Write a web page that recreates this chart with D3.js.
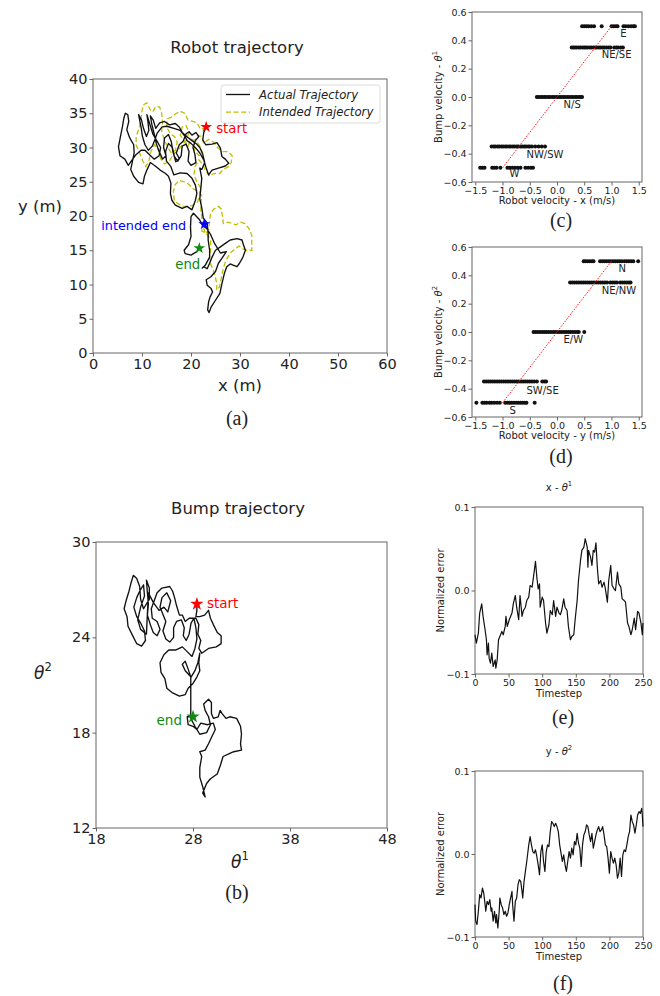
<!DOCTYPE html>
<html>
<head>
<meta charset="utf-8">
<script src="https://cdn.jsdelivr.net/npm/d3@7"></script>
<style>
  body { margin: 0; background: #fff; }
  svg { display: block; font-family: "DejaVu Sans", sans-serif; }
  .frame { fill: none; stroke: #666; stroke-width: 1; }
  .axis path { display: none; }
  .axis line { stroke: #666; }
  .axis text { fill: #222; }
  .caption { font-family: "Liberation Serif", "DejaVu Serif", serif; font-size: 20px; fill: #222; }
</style>
</head>
<body>
<svg id="fig" width="660" height="996"></svg>
<script>
// ---- data ----

// (a) robot trajectory, metres [x, y]
const robotActual = [
  [23.1,33.0],[22.6,32.2],[22.4,31.1],[23.0,30.4],[24.3,30.5],[25.3,30.7],[26.0,29.9],[26.3,28.7],[27.0,28.3],[27.7,27.7],
  [27.0,27.3],[25.6,27.0],[24.3,26.7],[23.6,26.0],[23.1,27.0],[22.6,28.2],[21.8,29.2],[21.0,29.9],[20.0,30.6],[19.2,31.0],
  [18.8,31.6],[17.8,32.5],[16.5,32.8],[15.1,33.1],[14.1,33.0],[13.1,32.1],[12.6,31.1],[12.1,30.2],[11.3,29.6],[10.6,30.4],
  [10.1,31.6],[9.8,33.0],[9.3,34.8],[9.9,34.0],[10.3,32.8],[10.9,31.6],[11.4,32.5],[11.2,33.8],[11.0,34.8],[11.6,33.4],
  [12.2,32.0],[13.0,31.0],[13.8,30.0],[13.5,28.8],[12.5,28.3],[11.6,28.9],[10.6,29.6],[9.8,29.6],[8.7,28.9],[7.8,28.0],
  [7.2,27.4],[6.5,28.3],[5.5,28.8],[5.2,30.1],[5.6,31.6],[6.0,33.0],[6.3,34.3],[6.6,35.0],[7.1,34.8],[7.3,33.8],
  [6.9,32.6],[7.5,31.4],[8.3,30.4],[8.4,29.2],[8.0,27.8],[7.7,26.8],[8.3,25.8],[9.3,24.9],[10.2,24.7],[10.5,25.8],
  [11.0,26.7],[11.7,27.8],[12.7,27.3],[13.7,26.7],[14.8,26.2],[15.4,25.8],[15.9,24.8],[15.8,23.3],[16.1,22.3],[16.8,21.6],
  [18.2,21.1],[19.2,21.4],[20.2,20.9],[20.9,22.3],[21.2,23.3],[20.9,24.5],[20.2,25.5],[19.2,26.2],[17.8,26.3],[16.5,26.0],
  [15.9,27.2],[15.0,28.0],[14.8,29.4],[15.4,30.6],[16.2,30.0],[16.6,28.7],[17.3,28.0],[18.0,28.8],[18.2,30.2],[19.0,30.5],
  [19.6,29.4],[19.4,28.0],[20.0,27.4],[21.0,27.8],[20.8,29.0],[20.4,30.0],[20.9,31.0],[21.6,31.6],[21.0,32.2],[20.2,31.8],
  [19.6,32.3],[19.0,32.0],[18.4,30.9],[17.6,30.4],[17.0,29.2],[17.6,28.4],[16.9,27.9],[16.3,29.4],[16.0,30.8],[15.4,31.9],
  [14.6,31.4],[14.4,30.0],[14.9,28.8],[14.2,28.3],[13.4,29.6],[12.9,30.6],[12.5,32.0],[12.0,33.4],[11.7,34.6],[12.3,34.0],
  [12.8,32.8],[13.6,33.6],[14.6,33.8],[15.6,33.3],[16.8,33.5],[17.6,33.0],[18.2,32.2],[19.3,31.5],[20.2,31.0],[21.0,30.6],
  [21.8,30.0],[22.4,29.0],[22.8,27.8],[22.2,26.8],[21.8,27.0],[22.2,25.5],[22.0,24.0],[21.8,22.5],[22.2,21.2],[22.5,19.7],
  [23.3,19.0],[23.5,17.5],[23.5,16.5],[23.8,15.0],[23.8,14.0],[22.9,12.8],[22.3,12.4],[22.6,12.6],[23.3,12.3],[23.8,13.1],
  [24.3,14.0],[25.0,15.0],[26.0,15.5],[27.0,16.0],[28.0,16.5],[29.4,16.7],[30.4,16.5],[30.7,15.8],[31.1,15.0],[30.6,14.0],
  [29.9,13.1],[29.4,12.6],[28.7,12.8],[28.0,13.0],[27.3,12.6],[26.8,11.6],[26.3,10.1],[25.9,8.7],[25.0,7.7],[24.1,6.7],
  [23.7,5.9],[23.4,6.3],[23.6,7.5],[23.9,8.2],[24.4,8.9],[24.1,9.4],[23.3,9.9],[23.1,10.7],[24.0,11.1],[25.0,11.9],
  [25.6,13.1],[26.3,13.8],[27.2,14.8],[26.0,14.6],[24.8,16.0],[24.0,17.3],[23.2,18.2],[22.4,18.6],[21.7,19.5],[20.5,20.4],
  [20.0,19.9],[19.9,18.4],[20.0,17.0],[19.5,15.8],[18.6,15.0],[18.8,14.5],[20.0,14.3],[21.2,14.8],[21.7,15.3]
];
const robotIntended = [
  [23.1,33.0],[22.0,32.6],[21.2,33.6],[20.4,33.8],[19.4,34.0],[18.7,35.0],[17.8,35.3],[16.8,34.9],[15.9,34.4],[15.2,34.2],
  [15.0,33.0],[15.8,32.0],[16.6,31.6],[17.2,30.8],[16.8,29.6],[16.0,29.2],[15.3,30.0],[14.6,31.0],[14.0,32.4],[14.2,33.8],
  [14.0,35.0],[13.6,35.9],[12.8,36.0],[12.2,35.2],[11.6,35.6],[11.0,36.5],[10.4,36.3],[10.0,35.4],[9.8,34.0],[9.4,32.8],
  [8.8,31.6],[8.8,30.4],[9.4,29.4],[10.2,28.0],[10.8,27.2],[11.4,28.0],[11.8,29.4],[12.6,30.4],[13.4,29.6],[13.8,28.4],
  [14.6,27.6],[15.6,28.0],[16.4,29.0],[17.4,29.6],[18.2,30.4],[19.0,31.0],[19.6,32.2],[19.0,33.2],[18.2,33.0],[17.8,31.8],
  [18.6,31.0],[19.4,30.2],[20.0,31.2],[21.0,31.0],[21.8,30.2],[22.4,29.2],[21.6,28.8],[20.8,29.6],[20.6,30.8],[21.4,31.8],
  [22.2,31.6],[22.6,30.6],[23.6,31.2],[24.6,30.8],[25.4,30.0],[26.4,29.4],[27.6,29.4],[28.4,28.8],[28.2,27.8],[27.6,27.2],
  [26.6,26.8],[25.8,26.2],[24.6,26.2],[23.8,25.8],[23.0,26.6],[22.4,27.6],[21.6,28.2],[20.8,27.2],[20.6,26.0],[21.2,25.0],
  [21.9,24.2],[21.8,23.0],[21.3,22.0],[20.4,21.6],[19.4,21.4],[18.4,21.4],[17.4,21.8],[16.6,22.2],[16.4,23.6],[16.8,24.6],
  [17.6,25.2],[18.6,25.0],[19.6,24.6],[20.4,24.0],[21.4,23.6],[22.2,23.0],[22.0,21.8],[22.0,20.8],[22.2,19.8],[22.4,18.6],
  [22.2,17.8],[23.2,17.4],[24.0,16.4],[24.0,15.2],[23.8,14.0],[24.0,13.0],[24.6,12.0],[25.0,11.0],[25.3,10.0],[25.2,9.2],
  [25.8,9.6],[26.2,11.0],[26.6,12.4],[27.2,13.6],[28.0,14.6],[29.0,15.2],[29.8,15.6],[30.6,15.2],[31.4,15.0],[32.4,15.0],
  [32.4,16.2],[32.4,17.2],[31.8,18.2],[31.0,18.9],[30.1,19.1],[29.2,18.7],[28.4,18.9],[27.6,19.1],[26.6,18.9],[26.4,20.0],
  [26.2,21.0],[25.6,21.4],[24.6,21.0],[24.0,20.4],[23.8,19.2],[23.6,18.0],[23.0,17.4],[22.6,18.2],[22.7,18.8]
];
const robotStart = [23.1, 33.0];
const robotIntendedEnd = [22.7, 18.8];
const robotEnd = [21.7, 15.3];
const legendLabels = ["Actual Trajectory", "Intended Trajectory"];

// (b) bump trajectory [theta1, theta2]
const bumpPath = [
  [28.4,26.1],[28.4,25.7],[28.3,25.3],[28.7,25.3],[29.2,25.4],[29.6,25.7],[29.8,25.2],[30.1,24.8],[30.5,24.3],[30.9,24.1],
  [30.9,23.6],[30.4,23.4],[29.6,23.3],[28.9,23.0],[28.6,23.3],[28.8,23.8],[28.5,24.2],[28.6,24.8],[28.3,25.2],[27.6,25.2],
  [27.2,25.0],[26.9,25.4],[26.6,25.4],[26.3,26.0],[26.1,26.5],[25.9,26.9],[25.6,27.2],[24.8,27.1],[24.3,26.8],[24.0,26.3],
  [23.7,25.8],[23.8,25.2],[24.3,25.0],[24.6,24.5],[24.3,24.1],[23.9,24.3],[23.6,24.8],[23.3,25.4],[23.4,26.1],[23.3,26.8],
  [23.2,27.6],[23.5,27.1],[23.5,26.4],[22.9,25.8],[22.6,26.4],[22.5,27.2],[22.2,27.7],[21.85,27.9],[21.6,27.4],[21.4,26.9],
  [21.1,26.3],[20.9,25.8],[21.2,25.3],[21.3,24.7],[21.7,24.2],[22.2,23.6],[22.7,23.45],[23.1,23.8],[23.0,24.4],[22.6,24.9],
  [22.2,25.3],[21.9,25.9],[22.2,26.5],[22.5,26.9],[22.9,27.3],[23.0,26.6],[22.6,25.9],[22.3,25.1],[22.6,24.5],[23.2,24.2],
  [23.4,26.8],[23.9,26.2],[24.5,25.7],[25.0,25.9],[25.4,25.6],[25.7,26.3],[25.3,26.8],[24.8,26.5],[24.6,25.9],[25.2,25.0],
  [24.9,24.4],[25.2,23.9],[25.6,23.7],[26.0,24.0],[26.0,24.6],[26.3,25.0],[26.8,25.1],[27.1,24.6],[27.0,24.1],[27.3,23.8],
  [27.6,24.2],[27.8,24.9],[28.1,25.2],[28.3,24.6],[28.4,23.9],[28.2,23.3],[27.9,22.8],[27.4,23.1],[26.9,23.4],[26.2,23.2],
  [25.5,23.2],[25.0,22.9],[24.6,22.4],[24.7,21.8],[25.1,21.4],[25.3,20.8],[25.9,20.5],[26.6,20.3],[27.2,20.4],[27.5,20.8],
  [28.0,21.1],[28.4,21.5],[28.7,21.9],[28.6,22.4],[28.7,23.0],[28.5,22.4],[28.2,21.9],[27.8,21.5],[27.2,21.9],[26.9,22.3],
  [27.2,22.5],[27.5,22.0],[27.77,21.5],[27.77,20.8],[27.77,19.9],[27.77,18.9],[28.2,18.4],[28.7,17.9],[29.4,18.0],[29.8,18.5],
  [29.6,19.0],[29.25,19.4],[29.1,19.8],[29.6,20.1],[29.9,19.9],[29.9,19.2],[30.1,18.9],[30.6,19.0],[30.8,19.4],[31.0,19.2],
  [31.4,18.9],[31.8,19.0],[32.5,18.9],[32.9,18.4],[33.0,17.9],[32.9,17.3],[33.0,16.9],[32.2,16.8],[31.8,16.7],[31.1,16.5],
  [30.8,15.9],[30.5,15.4],[29.8,15.1],[29.4,14.8],[29.0,14.2],[29.25,13.95],[29.0,14.6],[28.7,15.2],[28.7,15.8],[28.9,16.5],
  [28.7,16.8],[29.25,16.9],[29.6,17.3],[29.9,17.7],[30.3,18.2],[30.1,18.6],[29.5,18.5],[28.8,18.6],[28.4,18.2],[28.0,18.4],
  [27.5,18.5],[27.4,19.0],[27.77,19.0],[28.0,19.0]
];
const bumpStart = [28.4, 26.1];
const bumpEnd = [28.0, 19.0];

// (c)/(d) bump velocity levels and the robot velocities seen at each level
const bumpLevels = [0.5, 0.35, 0.0, -0.35, -0.5];
const velX = [
  [0.46,0.50,0.54,0.58,0.63,0.68,0.82,1.00,1.04,1.08,1.11,1.22,1.26,1.31,1.36,1.40,1.43],
  [0.27,0.30,0.33,0.36,0.40,0.43,0.47,0.50,0.53,0.56,0.60,0.63,0.67,0.70,0.73,0.77,0.80,0.84,0.87,0.91,0.95,0.98,1.05,1.09,1.12,1.17,1.21],
  [-0.37,-0.34,-0.30,-0.27,-0.23,-0.20,-0.16,-0.13,-0.09,-0.06,-0.02,0.01,0.05,0.08,0.12,0.15,0.19,0.22,0.26,0.29,0.33,0.36,0.40,0.43,0.46],
  [-1.20,-1.16,-1.13,-1.09,-1.06,-1.02,-0.99,-0.95,-0.92,-0.88,-0.85,-0.81,-0.78,-0.74,-0.71,-0.67,-0.64,-0.60,-0.57,-0.53,-0.50,-0.46,-0.40,-0.34,-0.28,-0.22],
  [-1.41,-1.37,-1.33,-1.19,-1.15,-1.11,-1.04,-0.91,-0.87,-0.82,-0.77,-0.72,-0.67,-0.58,-0.53,-0.48,-0.44]
];
const velY = [
  [0.49,0.52,0.56,0.60,0.64,0.67,0.79,0.83,0.87,0.91,0.95,0.99,1.03,1.07,1.11,1.15,1.19,1.24,1.28,1.32,1.36,1.40,1.49],
  [0.24,0.28,0.32,0.36,0.40,0.44,0.48,0.52,0.56,0.60,0.64,0.68,0.72,0.76,0.80,0.84,0.88,0.92,0.98,1.02,1.06,1.10,1.16,1.20,1.24,1.28,1.32,1.35],
  [-0.43,-0.39,-0.35,-0.31,-0.27,-0.23,-0.19,-0.15,-0.11,-0.07,-0.03,0.01,0.05,0.09,0.13,0.17,0.21,0.25,0.29,0.33,0.37,0.40,0.50],
  [-1.34,-1.30,-1.26,-1.22,-1.18,-1.14,-1.10,-1.06,-1.02,-0.98,-0.94,-0.90,-0.86,-0.82,-0.78,-0.74,-0.70,-0.66,-0.62,-0.58,-0.54,-0.50,-0.46,-0.42,-0.37,-0.27,-0.23,-0.20],
  [-1.48,-1.37,-1.33,-1.29,-1.24,-1.20,-1.15,-1.10,-1.05,-0.95,-0.91,-0.87,-0.83,-0.79,-0.75,-0.71,-0.67,-0.63,-0.59,-0.56,-0.41]
];
const refLineX = [-1.0, 1.0];
const refLineY = [-0.5, 0.5];
const dirLabelsX = [
  { name: "E", vx: 1.16, vy: 0.447 }, { name: "NE/SE", vx: 0.82, vy: 0.30 }, { name: "N/S", vx: 0.12, vy: -0.054 },
  { name: "NW/SW", vx: -0.56, vy: -0.405 }, { name: "W", vx: -0.87, vy: -0.54 }
];
const dirLabelsY = [
  { name: "N", vx: 1.13, vy: 0.445 }, { name: "NE/NW", vx: 0.82, vy: 0.294 }, { name: "E/W", vx: 0.12, vy: -0.054 },
  { name: "SW/SE", vx: -0.56, vy: -0.414 }, { name: "S", vx: -0.87, vy: -0.553 }
];

// (e)/(f) normalized error per timestep
const errXSteps = [0,2,5,7,10,12,15,17,18,20,21,23,25,27,30,31,33,35,37,40,42,45,46,48,51,55,57,60,62,65,67,70,72,75,77,80,82,85,87,90,92,94,96,97,100,102,105,107,110,112,115,117,120,122,125,127,129,132,134,137,139,142,144,147,149,152,154,157,159,162,164,167,168,169,172,174,176,178,180,182,184,187,189,192,194,197,199,202,204,207,209,212,214,217,219,222,224,227,229,232,234,237,239,242,244,247,249,250];
const errXValues = [-0.053,-0.063,-0.051,-0.027,-0.016,-0.031,-0.047,-0.059,-0.077,-0.063,-0.081,-0.087,-0.075,-0.091,-0.083,-0.093,-0.083,-0.059,-0.055,-0.049,-0.053,-0.043,-0.031,-0.043,-0.035,-0.027,-0.016,-0.006,-0.020,-0.035,-0.006,-0.031,-0.024,-0.020,-0.012,-0.008,0.006,0.004,0.016,0.035,0.016,0.002,0.008,-0.020,-0.008,-0.012,-0.039,-0.051,-0.041,-0.024,-0.029,-0.012,-0.031,-0.020,-0.027,-0.029,-0.024,-0.010,-0.020,-0.024,-0.043,-0.059,-0.055,-0.053,-0.035,-0.012,0.012,0.036,0.048,0.052,0.062,0.052,0.028,0.048,0.040,0.030,0.048,0.046,0.057,0.028,0.008,0.012,0.004,0.010,0.002,-0.014,0.012,0.030,0.006,0.002,0.000,0.022,0.008,0.004,-0.010,-0.012,-0.014,-0.039,-0.043,-0.053,-0.047,-0.033,-0.047,-0.025,-0.027,-0.039,-0.053,-0.039];
const errYSteps = [0,1,3,5,7,9,11,13,15,16,18,20,22,24,25,27,29,31,32,34,36,37,39,41,43,45,47,49,51,53,55,56,58,60,62,64,66,68,70,71,73,75,77,80,82,84,86,88,90,92,94,96,98,100,102,104,106,108,110,112,114,116,118,120,122,124,126,128,130,132,134,136,138,140,142,144,146,148,150,152,154,156,158,160,162,164,166,168,170,172,174,176,178,180,182,184,186,188,190,192,194,196,198,200,202,204,206,208,210,212,214,216,218,220,222,224,226,228,230,232,234,236,238,240,242,244,246,248,249,250];
const errYValues = [-0.061,-0.081,-0.085,-0.069,-0.049,-0.053,-0.041,-0.047,-0.061,-0.069,-0.057,-0.061,-0.055,-0.069,-0.065,-0.081,-0.069,-0.083,-0.073,-0.089,-0.069,-0.053,-0.061,-0.065,-0.073,-0.069,-0.075,-0.071,-0.061,-0.053,-0.045,-0.061,-0.081,-0.057,-0.053,-0.037,-0.031,-0.033,-0.045,-0.053,-0.033,-0.021,-0.009,0.011,0.021,0.011,0.003,0.001,0.005,-0.003,-0.013,-0.025,0.003,0.011,-0.009,-0.021,0.003,0.011,0.009,0.027,0.039,0.037,0.033,0.037,0.033,0.027,0.011,0.001,-0.009,-0.001,-0.013,-0.021,-0.009,0.003,-0.005,0.007,-0.001,0.015,0.011,0.025,0.013,0.007,-0.015,0.011,0.023,0.027,0.035,0.033,0.023,0.015,0.025,0.007,0.015,0.023,0.029,0.033,0.027,0.029,0.033,0.023,0.011,0.009,-0.005,-0.023,0.003,-0.005,-0.011,-0.005,-0.013,-0.029,-0.023,-0.005,-0.027,-0.001,0.005,0.003,0.011,0.021,0.027,0.047,0.039,0.035,0.025,0.035,0.047,0.051,0.049,0.055,0.047,0.033];

// ---- drawing ----
const svg = d3.select("#fig");

function makePanel(box, xDomain, yDomain) {
  return {
    box: box,
    x: d3.scaleLinear().domain(xDomain).range([box.left, box.right]),
    y: d3.scaleLinear().domain(yDomain).range([box.bottom, box.top])
  };
}

function drawAxes(p, xTicks, yTicks, fmtX, fmtY, fs) {
  const gx = svg.append("g").attr("class", "axis")
    .attr("transform", `translate(0,${p.box.bottom})`)
    .call(d3.axisBottom(p.x).tickValues(xTicks).tickFormat(fmtX).tickSize(3.5).tickPadding(2));
  gx.attr("font-size", fs).attr("font-family", "DejaVu Sans");
  const gy = svg.append("g").attr("class", "axis")
    .attr("transform", `translate(${p.box.left},0)`)
    .call(d3.axisLeft(p.y).tickValues(yTicks).tickFormat(fmtY).tickSize(3.5).tickPadding(2));
  gy.attr("font-size", fs).attr("font-family", "DejaVu Sans");
  svg.append("rect").attr("class", "frame")
    .attr("x", p.box.left).attr("y", p.box.top)
    .attr("width", p.box.right - p.box.left).attr("height", p.box.bottom - p.box.top);
}

function label(x, y, txt, fs, opts = {}) {
  const t = svg.append("text")
    .attr("x", x).attr("y", y)
    .attr("font-size", fs)
    .attr("text-anchor", opts.anchor || "middle")
    .attr("dominant-baseline", "central")
    .attr("fill", opts.color || "#222");
  if (opts.rotate) t.attr("transform", `rotate(-90,${x},${y})`);
  if (opts.italic) t.attr("font-style", "italic");
  if (txt !== null) t.text(txt);
  return t;
}

function addTheta(t, prefix, sup) {
  if (prefix) t.append("tspan").text(prefix);
  t.append("tspan").attr("font-style", "italic").text("θ");
  t.append("tspan").attr("font-size", "68%").attr("dy", "-0.5em").text(sup);
}

function star(p, pt, color, size) {
  svg.append("path")
    .attr("d", d3.symbol().type(d3.symbolStar).size(size)())
    .attr("transform", `translate(${p.x(pt[0])},${p.y(pt[1])})`)
    .attr("fill", color);
}

const intFmt = d3.format("d");
const oneFmt = d3.format(".1f");

// ---- (a) Robot trajectory ----
const pa = makePanel({ left: 93, right: 387, top: 79, bottom: 353 }, [0, 60], [0, 40]);
drawAxes(pa, d3.range(0, 61, 10), d3.range(0, 41, 5), intFmt, intFmt, 14.5);
const lineA = d3.line().x(d => pa.x(d[0])).y(d => pa.y(d[1]));
svg.append("path").datum(robotIntended).attr("d", lineA)
  .attr("fill", "none").attr("stroke", "#bfbf00").attr("stroke-width", 1.3).attr("stroke-dasharray", "5,2.6");
svg.append("path").datum(robotActual).attr("d", lineA)
  .attr("fill", "none").attr("stroke", "#111").attr("stroke-width", 1.35).attr("stroke-linejoin", "round");
star(pa, robotStart, "#ff0000", 42);
star(pa, robotIntendedEnd, "#0000ff", 42);
star(pa, robotEnd, "#108a10", 42);
label(pa.x(robotStart[0]) + 10, pa.y(robotStart[1]) + 2, "start", 13.3, { anchor: "start", color: "#ff0000" });
label(pa.x(robotIntendedEnd[0]) - 18, pa.y(robotIntendedEnd[1]) + 1.5, "intended end", 12.8, { anchor: "end", color: "#0000ff" });
label(pa.x(robotEnd[0]) + 1, pa.y(robotEnd[1]) + 16, "end", 13.3, { anchor: "end", color: "#108a10" });

// legend
const lg = { x: 221, y: 85, w: 159, h: 38 };
svg.append("rect").attr("x", lg.x).attr("y", lg.y).attr("width", lg.w).attr("height", lg.h)
  .attr("rx", 2.5).attr("fill", "#fff").attr("stroke", "#d0d0d0").attr("stroke-width", 0.8);
legendLabels.forEach((name, i) => {
  const yy = lg.y + 9.5 + i * 17.7;
  svg.append("line").attr("x1", lg.x + 5).attr("x2", lg.x + 29).attr("y1", yy).attr("y2", yy)
    .attr("stroke", i === 0 ? "#111" : "#bfbf00").attr("stroke-width", 1.3)
    .attr("stroke-dasharray", i === 0 ? null : "5,2.6");
  label(lg.x + 38, yy, name, 11.7, { anchor: "start", italic: true });
});
label(237, 47, "Robot trajectory", 16.5);
label(240, 385, "x (m)", 16.5);
label(40, 206, "y (m)", 16.5);
svg.append("text").attr("class", "caption").attr("x", 237).attr("y", 418)
  .attr("text-anchor", "middle").attr("dominant-baseline", "central").text("(a)");

// ---- (b) Bump trajectory ----
const pb = makePanel({ left: 96, right: 387, top: 542, bottom: 828 }, [18, 48], [12, 30]);
drawAxes(pb, [18, 28, 38, 48], [12, 18, 24, 30], intFmt, intFmt, 14.5);
const lineB = d3.line().x(d => pb.x(d[0])).y(d => pb.y(d[1]));
svg.append("path").datum(bumpPath).attr("d", lineB)
  .attr("fill", "none").attr("stroke", "#111").attr("stroke-width", 1.35).attr("stroke-linejoin", "round");
star(pb, bumpStart, "#ff0000", 55);
star(pb, bumpEnd, "#108a10", 55);
label(pb.x(bumpStart[0]) + 10, pb.y(bumpStart[1]) - 1, "start", 13.5, { anchor: "start", color: "#ff0000" });
label(pb.x(bumpEnd[0]) - 11, pb.y(bumpEnd[1]) + 3, "end", 13.5, { anchor: "end", color: "#108a10" });
label(238, 508, "Bump trajectory", 16.5);
addTheta(label(240, 862, null, 17), "", "1");
addTheta(label(43, 673, null, 17), "", "2");
svg.append("text").attr("class", "caption").attr("x", 237).attr("y", 892)
  .attr("text-anchor", "middle").attr("dominant-baseline", "central").text("(b)");

// ---- (c) and (d) velocity mapping ----
function velocityPanel(box, vels, dirLabels, axisName, thetaSup, captionTxt, captionY) {
  const p = makePanel(box, [-1.56, 1.56], [-0.6, 0.6]);
  drawAxes(p, [-1.5, -1.0, -0.5, 0.0, 0.5, 1.0, 1.5], [-0.6, -0.4, -0.2, 0.0, 0.2, 0.4, 0.6], oneFmt, oneFmt, 9.5);
  const pts = [];
  bumpLevels.forEach((lv, i) => vels[i].forEach(v => pts.push([v, lv])));
  svg.append("g").selectAll("circle").data(pts).join("circle")
    .attr("cx", d => p.x(d[0])).attr("cy", d => p.y(d[1])).attr("r", 2).attr("fill", "#111");
  svg.append("line")
    .attr("x1", p.x(refLineX[0])).attr("y1", p.y(refLineY[0]))
    .attr("x2", p.x(refLineX[1])).attr("y2", p.y(refLineY[1]))
    .attr("stroke", "#ff2020").attr("stroke-width", 1).attr("stroke-dasharray", "1.6,1.4");
  dirLabels.forEach(d => label(p.x(d.vx), p.y(d.vy), d.name, 10, { anchor: "start" }));
  const cx = (box.left + box.right) / 2;
  label(cx, box.bottom + 18, "Robot velocity - " + axisName + " (m/s)", 10);
  addTheta(label(box.left - 34, (box.top + box.bottom) / 2, null, 10, { rotate: true }), "Bump velocity - ", thetaSup);
  svg.append("text").attr("class", "caption").attr("x", 561).attr("y", captionY)
    .attr("text-anchor", "middle").attr("dominant-baseline", "central").text(captionTxt);
}
velocityPanel({ left: 472, right: 642, top: 12, bottom: 182 }, velX, dirLabelsX, "x", "1", "(c)", 220);
velocityPanel({ left: 472, right: 642, top: 247, bottom: 417 }, velY, dirLabelsY, "y", "2", "(d)", 456);

// ---- (e) and (f) normalized error ----
function errorPanel(box, steps, values, prefix, thetaSup, captionTxt, captionY) {
  const p = makePanel(box, [0, 250], [-0.1, 0.1]);
  drawAxes(p, d3.range(0, 251, 50), [-0.1, 0.0, 0.1], intFmt, oneFmt, 9.5);
  const line = d3.line().x((d, i) => p.x(steps[i])).y(d => p.y(d));
  svg.append("path").datum(values).attr("d", line)
    .attr("fill", "none").attr("stroke", "#111").attr("stroke-width", 1.2).attr("stroke-linejoin", "round");
  const cx = (box.left + box.right) / 2;
  addTheta(label(cx, box.top - 20, null, 10), prefix, thetaSup);
  label(cx, box.bottom + 19, "Timestep", 10);
  label(box.left - 35, (box.top + box.bottom) / 2, "Normalized error", 10, { rotate: true });
  svg.append("text").attr("class", "caption").attr("x", 563).attr("y", captionY)
    .attr("text-anchor", "middle").attr("dominant-baseline", "central").text(captionTxt);
}
errorPanel({ left: 475, right: 643, top: 507, bottom: 674 }, errXSteps, errXValues, "x - ", "1", "(e)", 717);
errorPanel({ left: 475, right: 643, top: 771, bottom: 937 }, errYSteps, errYValues, "y - ", "2", "(f)", 983);
</script>
</body>
</html>
